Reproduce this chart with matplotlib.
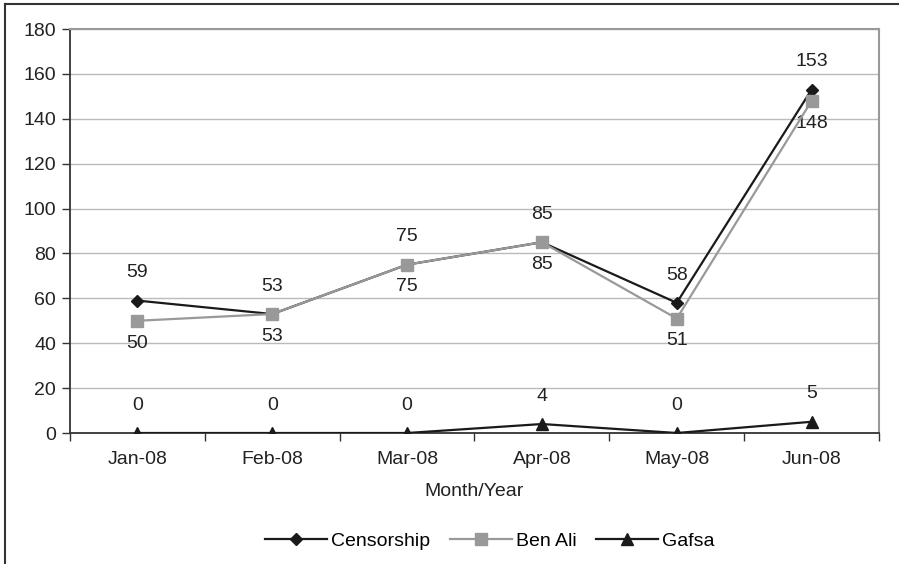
import matplotlib.pyplot as plt
from matplotlib.lines import Line2D

plt.rcParams['font.family'] = ['Liberation Sans', 'DejaVu Sans']

months = ['Jan-08', 'Feb-08', 'Mar-08', 'Apr-08', 'May-08', 'Jun-08']
censorship = [59, 53, 75, 85, 58, 153]
ben_ali = [50, 53, 75, 85, 51, 148]
gafsa = [0, 0, 0, 4, 0, 5]

fs = 14
fig = plt.figure(figsize=(8.99, 5.64), dpi=100)
ax = fig.add_axes([70/899, 1-433/564, 809/899, 404/564])

x = list(range(len(months)))
ax.plot(x, censorship, color='#1a1a1a', lw=1.6, marker='D', ms=6, label='Censorship', zorder=3)
ax.plot(x, ben_ali, color='#999999', lw=1.6, marker='s', ms=8, label='Ben Ali', zorder=4)
ax.plot(x, gafsa, color='#1a1a1a', lw=1.6, marker='^', ms=8, label='Gafsa', zorder=5)

# data labels: censorship above, ben ali below, gafsa above
for i in x:
    ax.annotate(str(censorship[i]), (i, censorship[i]), xytext=(0, 20), textcoords='offset points',
                ha='center', va='center', fontsize=fs, color='#222222')
    ax.annotate(str(ben_ali[i]), (i, ben_ali[i]), xytext=(0, -16), textcoords='offset points',
                ha='center', va='center', fontsize=fs, color='#222222')
    ax.annotate(str(gafsa[i]), (i, gafsa[i]), xytext=(0, 20), textcoords='offset points',
                ha='center', va='center', fontsize=fs, color='#222222')

ax.set_xlim(-0.5, len(months) - 0.5)
ax.set_ylim(0, 180)
ax.set_yticks(range(0, 181, 20))
ax.yaxis.grid(True, color='#bbbbbb', lw=1)
ax.set_axisbelow(True)

# ticks between categories, labels centered on categories
ax.set_xticks([i - 0.5 for i in range(len(months) + 1)])
ax.set_xticklabels([])
ax.set_xticks(x, minor=True)
ax.set_xticklabels(months, minor=True)
ax.tick_params(axis='x', which='minor', length=0, pad=13, labelsize=fs, colors='#222222')
ax.tick_params(axis='x', which='major', length=6, width=1, color='#333333')
ax.tick_params(axis='y', length=6, width=1, color='#333333', labelsize=fs, labelcolor='#222222', pad=4)

for s in ['left', 'bottom']:
    ax.spines[s].set_color('#333333')
    ax.spines[s].set_linewidth(1.3)
for s in ['top', 'right']:
    ax.spines[s].set_color('#999999')
    ax.spines[s].set_linewidth(1.5)

ax.set_xlabel('Month/Year', fontsize=fs, color='#222222', labelpad=11)

fig.legend(loc='center', bbox_to_anchor=(490/899, 1-541/564), ncol=3, frameon=False,
           fontsize=fs, handlelength=3.2, handletextpad=0.2, columnspacing=1.0)

# outer frame (cut off on the right and bottom)
fig.add_artist(Line2D([4.5/899, 4.5/899], [0, 1-4/564], transform=fig.transFigure,
                      color='#333333', lw=1.5))
fig.add_artist(Line2D([4.5/899, 1], [1-4/564, 1-4/564], transform=fig.transFigure,
                      color='#333333', lw=1.5))

fig.savefig('out.png', dpi=100)
